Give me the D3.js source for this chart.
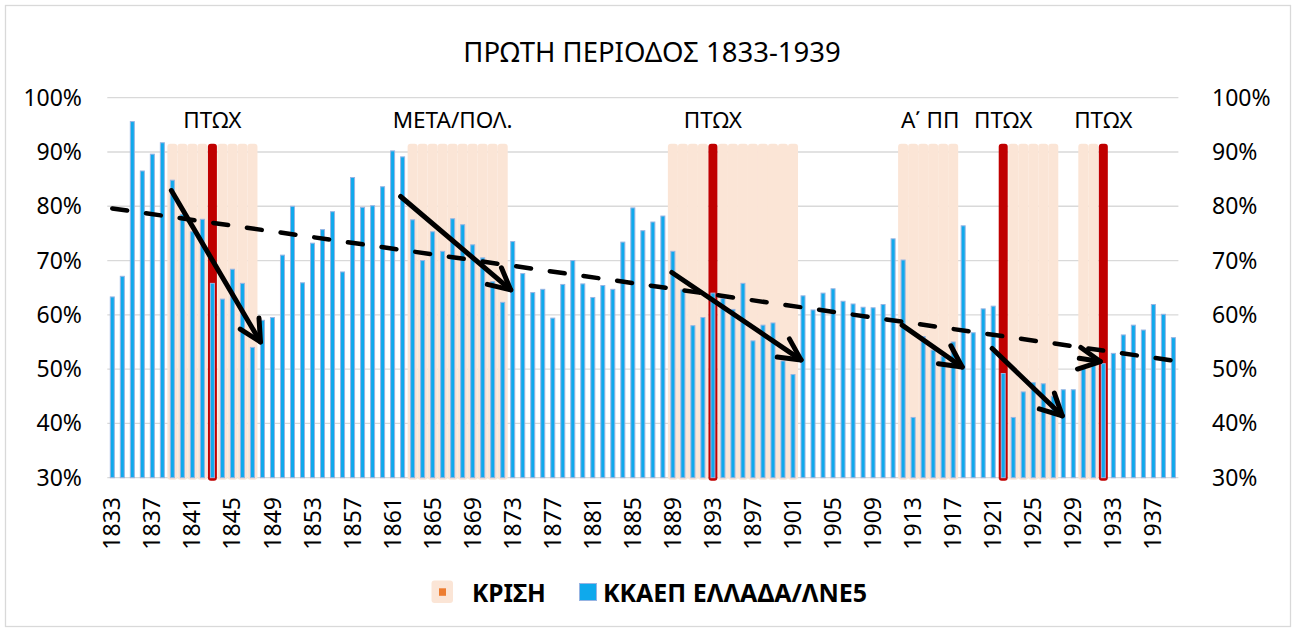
<!DOCTYPE html>
<html>
<head>
<meta charset="utf-8">
<script src="https://cdn.jsdelivr.net/npm/d3@7"></script>
<style>
body { margin: 0; background: #fff; }
text { font-family: "Noto Sans", sans-serif; fill: #000; }
</style>
</head>
<body>
<script>
// years 1833..1939
const years = d3.range(1833, 1940);

// ΚΚΑΕΠ ΕΛΛΑΔΑ/ΛΝΕ5, %
const shares = [
  63.3, 67.1, 95.6, 86.5, 89.6, 91.7, 84.8, 78.5, 75.3, 77.6,   // 1833-1842
  65.8, 62.9, 68.4, 65.8, 54.0, 59.0, 59.5, 71.0, 80.0, 65.9,   // 1843-1852
  73.2, 75.7, 79.0, 67.9, 85.3, 79.8, 80.1, 83.6, 90.2, 89.1,   // 1853-1862
  77.5, 70.0, 75.3, 71.7, 77.7, 76.6, 72.9, 70.5, 66.1, 62.3,   // 1863-1872
  73.5, 67.6, 64.1, 64.7, 59.4, 65.6, 70.0, 65.7, 63.2, 65.4,   // 1873-1882
  64.7, 73.4, 79.7, 75.5, 77.1, 78.2, 71.7, 64.6, 58.0, 59.5,   // 1883-1892
  64.0, 63.0, 61.0, 65.8, 55.2, 58.1, 58.5, 51.5, 49.0, 63.5,   // 1893-1902
  60.9, 64.0, 64.8, 62.5, 62.0, 61.4, 61.3, 61.9, 74.0, 70.1,   // 1903-1912
  41.1, 56.0, 53.5, 52.3, 55.0, 76.4, 56.7, 61.1, 61.6, 49.2,   // 1913-1922
  41.1, 45.8, 47.5, 47.3, 45.0, 46.2, 46.2, 50.4, 51.0, 51.0,   // 1923-1932
  52.9, 56.3, 58.1, 57.2, 61.9, 60.1, 55.8                      // 1933-1939
];

// ΚΡΙΣΗ series
const crisisYears = [
  1839, 1840, 1841, 1842, 1843, 1844, 1845, 1846, 1847,
  1863, 1864, 1865, 1866, 1867, 1868, 1869, 1870, 1871, 1872,
  1889, 1890, 1891, 1892, 1893, 1894, 1895, 1896, 1897, 1898, 1899, 1900, 1901,
  1912, 1913, 1914, 1915, 1916, 1917,
  1922, 1923, 1924, 1925, 1926, 1927,
  1930, 1931, 1932
];
const crisisLevel = 91.5;
const bankruptcyYears = [1843, 1893, 1922, 1932];

const yTicks = [30, 40, 50, 60, 70, 80, 90, 100];
const xTickYears = years.filter((d, i) => i % 4 === 0);

const notes = [
  { text: "ΠΤΩΧ", year: 1843 },
  { text: "ΜΕΤΑ/ΠΟΛ.", year: 1867 },
  { text: "ΠΤΩΧ", year: 1893 },
  { text: "Α΄ ΠΠ", year: 1914.7 },
  { text: "ΠΤΩΧ", year: 1922 },
  { text: "ΠΤΩΧ", year: 1932 }
];

// arrows: [year0, value0, year1, value1]
const arrows = [
  [1838.9, 82.9, 1847.8, 55.0],
  [1861.8, 81.8, 1872.8, 64.6],
  [1888.9, 67.8, 1901.8, 51.7],
  [1911.9, 58.1, 1917.9, 50.4],
  [1920.9, 53.8, 1927.9, 41.4],
  [1929.6, 52.0, 1931.7, 51.4]
];

const width = 1298;
const height = 632;
const plot = { left: 107.3, right: 1178.4, top: 97.7, bottom: 477.7 };

const svg = d3.select("body").append("svg")
  .attr("width", width)
  .attr("height", height);

// chart border
svg.append("rect")
  .attr("x", 5.5).attr("y", 5.5)
  .attr("width", 1285).attr("height", 621)
  .attr("fill", "#fff")
  .attr("stroke", "#D9D9D9")
  .attr("stroke-width", 1.3);

const x = d3.scaleBand()
  .domain(years)
  .range([plot.left, plot.right])
  .padding(0);
const bw = x.bandwidth();

// year -> centre of its band (used for trend and arrows)
const xc = d3.scaleLinear()
  .domain([1833, 1939])
  .range([x(1833) + bw / 2, x(1939) + bw / 2]);

const y = d3.scaleLinear()
  .domain([30, 100])
  .range([plot.bottom, plot.top]);

// title
svg.append("text")
  .attr("x", 652).attr("y", 62)
  .attr("text-anchor", "middle")
  .attr("font-size", "27.5px")
  .text("ΠΡΩΤΗ ΠΕΡΙΟΔΟΣ 1833-1939");

// gridlines
svg.append("g")
  .selectAll("line")
  .data(yTicks)
  .enter()
  .append("line")
  .attr("x1", plot.left).attr("x2", plot.right)
  .attr("y1", d => y(d)).attr("y2", d => y(d))
  .attr("stroke", "#D9D9D9")
  .attr("stroke-width", 1.3);

// left and right axis labels
const pct = d => d + "%";
svg.append("g")
  .selectAll("text")
  .data(yTicks)
  .enter()
  .append("text")
  .attr("x", 82).attr("y", d => y(d))
  .attr("dy", "0.35em")
  .attr("text-anchor", "end")
  .attr("font-size", "23px")
  .text(pct);
svg.append("g")
  .selectAll("text")
  .data(yTicks)
  .enter()
  .append("text")
  .attr("x", 1212).attr("y", d => y(d))
  .attr("dy", "0.35em")
  .attr("text-anchor", "start")
  .attr("font-size", "23px")
  .text(pct);

// crisis shading (scalloped tops)
svg.append("g")
  .selectAll("rect")
  .data(crisisYears.filter(d => bankruptcyYears.indexOf(d) < 0))
  .enter()
  .append("rect")
  .attr("x", d => x(d))
  .attr("y", y(crisisLevel))
  .attr("width", bw)
  .attr("height", y(30) - y(crisisLevel) + 2)
  .attr("rx", 3)
  .attr("fill", "#FBE5D6");

// bankruptcy years in dark red
svg.append("g")
  .selectAll("rect")
  .data(bankruptcyYears)
  .enter()
  .append("rect")
  .attr("x", d => x(d) + bw / 2 - 4.5)
  .attr("y", y(crisisLevel))
  .attr("width", 9)
  .attr("height", y(30) - y(crisisLevel) + 3)
  .attr("rx", 3)
  .attr("fill", "#C00000");

// main bars
svg.append("g")
  .selectAll("rect")
  .data(years)
  .enter()
  .append("rect")
  .attr("x", d => x(d) + bw / 2 - 2)
  .attr("y", (d, i) => y(shares[i]))
  .attr("width", 4)
  .attr("height", (d, i) => y(30) - y(shares[i]))
  .attr("fill", "#0FA9EC")
  .attr("stroke", "#97B4E2")
  .attr("stroke-width", 1);

// x axis labels, rotated
svg.append("g")
  .selectAll("text")
  .data(xTickYears)
  .enter()
  .append("text")
  .attr("transform", d => "translate(" + (x(d) + bw / 2) + ",497) rotate(-90)")
  .attr("dy", "0.35em")
  .attr("text-anchor", "end")
  .attr("font-size", "23px")
  .text(d => d);

// linear trend, forward one period
const mx = d3.mean(years), my = d3.mean(shares);
const slope = d3.sum(years, (d, i) => (d - mx) * (shares[i] - my)) /
              d3.sum(years, d => (d - mx) * (d - mx));
const trend = yr => my + slope * (yr - mx);
svg.append("line")
  .attr("x1", xc(1833)).attr("y1", y(trend(1833)))
  .attr("x2", xc(1940)).attr("y2", y(trend(1940)))
  .attr("stroke", "#000")
  .attr("stroke-width", 4.5)
  .attr("stroke-linecap", "round")
  .attr("stroke-dasharray", "15,19");

// arrows
const ag = svg.append("g")
  .attr("stroke", "#000")
  .attr("stroke-width", 5)
  .attr("stroke-linecap", "round")
  .attr("stroke-linejoin", "round")
  .attr("fill", "none");
arrows.forEach(a => {
  const x0 = xc(a[0]), y0 = y(a[1]), x1 = xc(a[2]), y1 = y(a[3]);
  const ang = Math.atan2(y0 - y1, x0 - x1);
  const L = 24, s = 27 * Math.PI / 180;
  ag.append("line")
    .attr("x1", x0).attr("y1", y0)
    .attr("x2", x1).attr("y2", y1);
  ag.append("path")
    .attr("d", "M" + (x1 + L * Math.cos(ang + s)) + "," + (y1 + L * Math.sin(ang + s)) +
               "L" + x1 + "," + y1 +
               "L" + (x1 + L * Math.cos(ang - s)) + "," + (y1 + L * Math.sin(ang - s)));
});

// annotations above the shaded areas
svg.append("g")
  .selectAll("text")
  .data(notes)
  .enter()
  .append("text")
  .attr("x", d => xc(d.year))
  .attr("y", 127.5)
  .attr("text-anchor", "middle")
  .attr("font-size", "22.5px")
  .text(d => d.text);

// legend
const lg = svg.append("g");
lg.append("rect")
  .attr("x", 431.5).attr("y", 580.5)
  .attr("width", 21.5).attr("height", 22.5)
  .attr("rx", 3)
  .attr("fill", "#FBE5D6");
lg.append("rect")
  .attr("x", 439).attr("y", 588.3)
  .attr("width", 7).attr("height", 7.5)
  .attr("fill", "#ED7D31");
lg.append("text")
  .attr("x", 472).attr("y", 601.5)
  .attr("font-size", "24.5px")
  .attr("font-weight", "bold")
  .text("ΚΡΙΣΗ");
lg.append("rect")
  .attr("x", 579.5).attr("y", 583.5)
  .attr("width", 17).attr("height", 17)
  .attr("fill", "#0FA9EC")
  .attr("stroke", "#97B4E2")
  .attr("stroke-width", 1);
lg.append("text")
  .attr("x", 603).attr("y", 601.5)
  .attr("font-size", "25px")
  .attr("font-weight", "bold")
  .text("ΚΚΑΕΠ ΕΛΛΑΔΑ/ΛΝΕ5");
</script>
</body>
</html>
